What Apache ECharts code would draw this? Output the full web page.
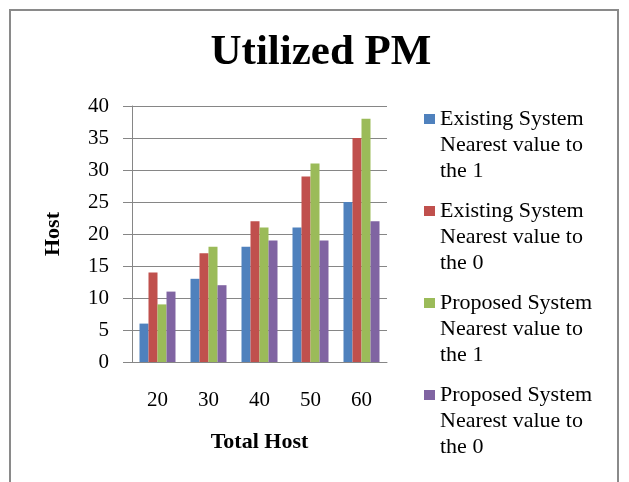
<!DOCTYPE html>
<html>
<head>
<meta charset="utf-8">
<script src="https://cdn.jsdelivr.net/npm/echarts@6/dist/echarts.min.js"></script>
<style>
html,body{margin:0;padding:0;background:#fff;}
#chart{width:629px;height:482px;}
</style>
</head>
<body>
<div id="chart"></div>
<script>
var categories = ['20', '30', '40', '50', '60'];
var seriesNames = [
  'Existing System Nearest value to the 1',
  'Existing System Nearest value to the 0',
  'Proposed System Nearest value to the 1',
  'Proposed System Nearest value to the 0'
];
var existing1 = [6, 13, 18, 21, 25];
var existing0 = [14, 17, 22, 29, 35];
var proposed1 = [9, 18, 21, 31, 38];
var proposed0 = [11, 12, 19, 19, 22];
var seriesValues = [existing1, existing0, proposed1, proposed0];
var colors = ['#4F81BD', '#C0504D', '#9BBB59', '#8064A2'];
var yTicks = [0, 5, 10, 15, 20, 25, 30, 35, 40];

var serif = '"Liberation Serif", "Times New Roman", serif';
var chart = echarts.init(document.getElementById('chart'));

var iconPath = 'path://M0,8L11,8L11,18L0,18Z M0,0 M11,78';

chart.setOption({
  animation: false,
  backgroundColor: '#ffffff',
  color: colors,
  title: {
    text: 'Utilized PM',
    left: 321,
    top: 31,
    padding: 0,
    textAlign: 'center',
    textStyle: { fontFamily: serif, fontWeight: 'bold', fontSize: 43, color: '#000' }
  },
  legend: {
    orient: 'vertical',
    left: 424,
    top: 106,
    padding: 0,
    itemGap: 14,
    itemWidth: 11,
    itemHeight: 78,
    icon: iconPath,
    data: seriesNames,
    formatter: function (name) {
      return name.replace(' Nearest', '\nNearest').replace(' the ', '\nthe ');
    },
    textStyle: { fontFamily: serif, fontSize: 22, color: '#000', lineHeight: 26 }
  },
  grid: { left: 132, top: 106, width: 255, height: 256, containLabel: false },
  xAxis: {
    type: 'category',
    data: categories,
    name: 'Total Host',
    nameLocation: 'middle',
    nameGap: 69,
    nameTextStyle: { fontFamily: serif, fontWeight: 'bold', fontSize: 22, color: '#000' },
    axisLine: { show: true, lineStyle: { color: '#868686', width: 1 } },
    axisTick: { show: false },
    axisLabel: { margin: 28, fontFamily: serif, fontSize: 21, color: '#000' },
    splitLine: { show: false }
  },
  yAxis: {
    type: 'value',
    min: yTicks[0],
    max: yTicks[yTicks.length - 1],
    interval: 5,
    name: 'Host',
    nameLocation: 'middle',
    nameGap: 68,
    nameRotate: 90,
    nameTextStyle: { fontFamily: serif, fontWeight: 'bold', fontSize: 22, color: '#000' },
    axisLine: { show: true, lineStyle: { color: '#868686', width: 1 } },
    axisTick: { show: true, inside: false, length: 9, lineStyle: { color: '#868686' } },
    axisLabel: { margin: 23, fontFamily: serif, fontSize: 21, color: '#000' },
    splitLine: { show: true, lineStyle: { color: '#868686', width: 1 } }
  },
  graphic: [{
    type: 'rect',
    shape: { x: 10, y: 10, width: 608, height: 520 },
    style: { fill: 'none', stroke: '#8a8a8a', lineWidth: 2 },
    silent: true,
    z: -10
  }],
  series: seriesNames.map(function (n, i) {
    return {
      name: n,
      type: 'bar',
      data: seriesValues[i],
      barWidth: 9,
      barGap: '0%',
      itemStyle: { color: colors[i] }
    };
  })
});
</script>
</body>
</html>
